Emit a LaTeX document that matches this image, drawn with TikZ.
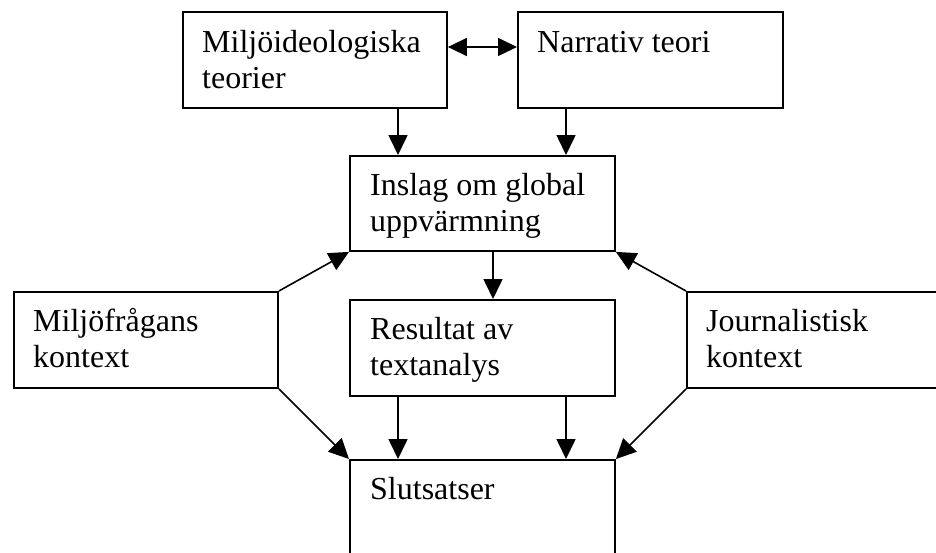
\documentclass[tikz,border=0pt]{standalone}
\usepackage{fontspec}
\setmainfont{Liberation Serif}
\usetikzlibrary{arrows.meta,calc}
\tikzset{
  box/.style={draw, line width=1.9pt, anchor=north west, inner sep=0pt},
  txt/.style={anchor=base west, inner sep=0pt, font=\fontsize{32}{36.8}\selectfont},
  arr/.style={line width=1.6pt, -{Triangle[length=20pt,width=19pt]}},
  darr/.style={line width=1.6pt, {Triangle[length=19pt,width=18pt]}-{Triangle[length=19pt,width=18pt]}}
}
\newcommand{\twolines}[2]{\parbox[t]{300pt}{\raggedright #1\\#2}}
\begin{document}
\begin{tikzpicture}[x=1pt,y=-1pt]
\useasboundingbox (0,0) rectangle (936,552);
\clip (0,0) rectangle (936,552);
% boxes
\node[box, minimum width=264pt, minimum height=96pt] (mi) at (182,11) {};
\node[box, minimum width=265pt, minimum height=96pt] (na) at (517,11) {};
\node[box, minimum width=265pt, minimum height=95pt] (in) at (349,155) {};
\node[box, minimum width=264pt, minimum height=96pt] (mk) at (13,291) {};
\node[box, minimum width=265pt, minimum height=96pt] (re) at (349,299) {};
\node[box, minimum width=280pt, minimum height=96pt] (jk) at (686,291) {};
\node[box, minimum width=265pt, minimum height=120pt] (sl) at (349,459) {};
% texts
\node[txt] (tmi) at ($(mi.north west)+(20,41)$) {\twolines{Miljöideologiska}{teorier}};
\node[txt] (tna) at ($(na.north west)+(20,41)$) {Narrativ teori};
\node[txt] (tin) at ($(in.north west)+(21,40)$) {\twolines{Inslag om global}{uppvärmning}};
\node[txt] (tmk) at ($(mk.north west)+(20,40)$) {\twolines{Miljöfrågans}{kontext}};
\node[txt] (tre) at ($(re.north west)+(21,40)$) {\twolines{Resultat av}{textanalys}};
\node[txt] (tjk) at ($(jk.north west)+(20,40)$) {\twolines{Journalistisk}{kontext}};
\node[txt] (tsl) at ($(sl.north west)+(21,40)$) {Slutsatser};
% connectors
\coordinate (c1) at (398,0);
\coordinate (c2) at (566,0);
\coordinate (c3) at (493,0);
\coordinate (h) at (0,47);
\draw[darr] (mi.east |- h) -- (na.west |- h);
\draw[arr] (c1 |- mi.south) -- (c1 |- in.north);
\draw[arr] (c2 |- na.south) -- (c2 |- in.north);
\draw[arr] (c3 |- in.south) -- (c3 |- re.north);
\draw[arr] (c1 |- re.south) -- (c1 |- sl.north);
\draw[arr] (c2 |- re.south) -- (c2 |- sl.north);
\draw[arr] (mk.north east) -- (in.south west);
\draw[arr] (mk.south east) -- (sl.north west);
\draw[arr] (jk.north west) -- (in.south east);
\draw[arr] (jk.south west) -- (sl.north east);
\end{tikzpicture}
\end{document}
